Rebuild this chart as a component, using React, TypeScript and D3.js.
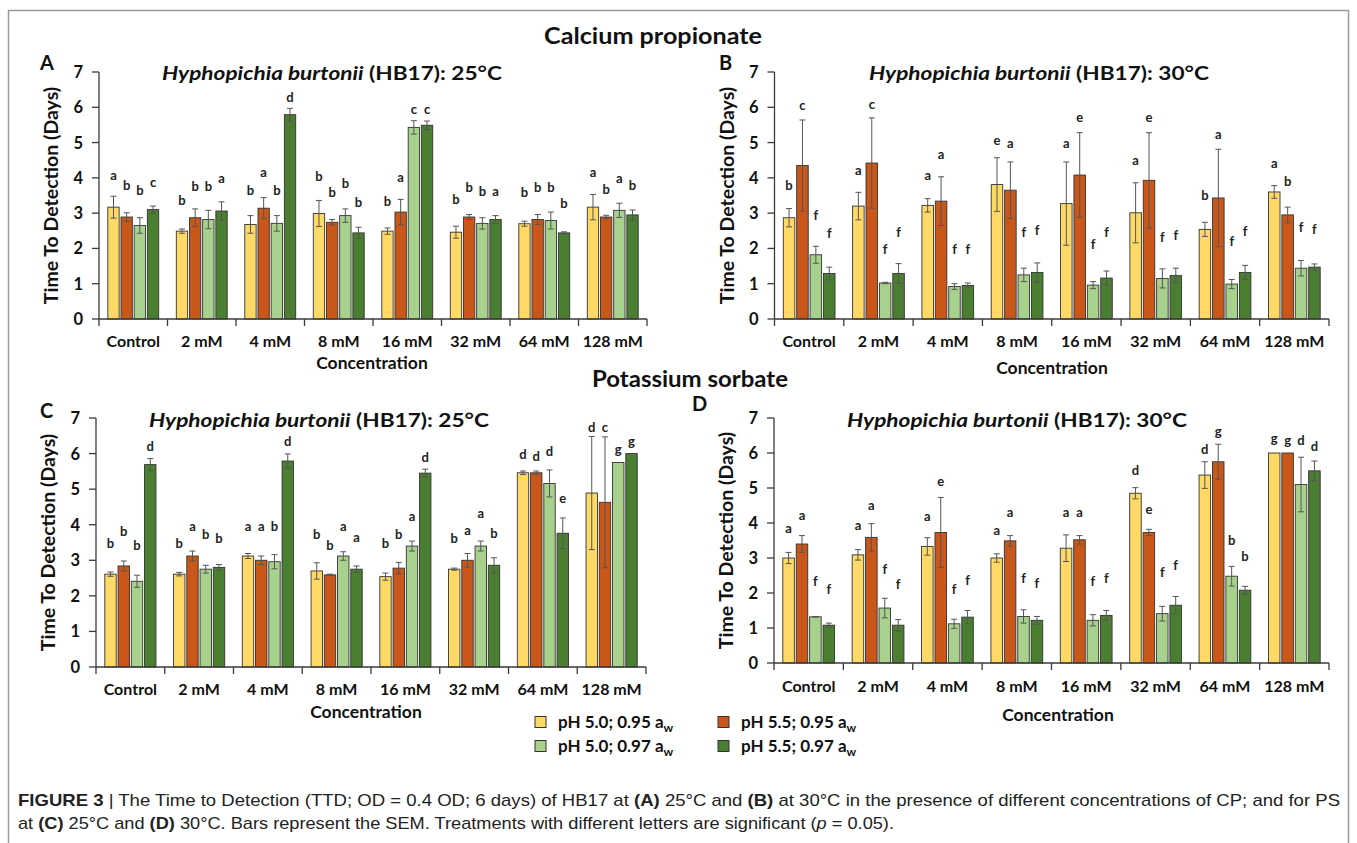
import React from 'react';
import * as d3 from 'd3';

// ---------- shared data ----------
const categories = ['Control', '2 mM', '4 mM', '8 mM', '16 mM', '32 mM', '64 mM', '128 mM'];
const seriesKeys = ['s0', 's1', 's2', 's3'];
const seriesLabels = ['pH 5.0; 0.95 a', 'pH 5.5; 0.95 a', 'pH 5.0; 0.97 a', 'pH 5.5; 0.97 a'];
const seriesColors = ['#FFD966', '#C9571A', '#A9D18E', '#4A7E30'];
const yTicks = [0, 1, 2, 3, 4, 5, 6, 7];

// ---------- Panel A: Calcium propionate, 25°C ----------
const aMeans = [
  [3.17, 2.49, 2.68, 2.99, 2.49, 2.46, 2.70, 3.17],
  [2.89, 2.87, 3.14, 2.74, 3.03, 2.89, 2.82, 2.89],
  [2.65, 2.82, 2.71, 2.93, 5.43, 2.71, 2.79, 3.08],
  [3.10, 3.06, 5.79, 2.44, 5.49, 2.82, 2.44, 2.95],
];
const aErr = [
  [0.31, 0.06, 0.25, 0.37, 0.09, 0.17, 0.07, 0.36],
  [0.12, 0.25, 0.30, 0.08, 0.36, 0.07, 0.14, 0.05],
  [0.22, 0.26, 0.22, 0.19, 0.19, 0.16, 0.24, 0.20],
  [0.10, 0.26, 0.18, 0.16, 0.12, 0.11, 0.03, 0.14],
];
const aLetters = [
  ['a', 'b', 'b', 'b', 'b', 'b', 'b', 'a'],
  ['b', 'b', 'a', 'b', 'a', 'b', 'b', 'b'],
  ['b', 'b', 'b', 'b', 'c', 'b', 'b', 'a'],
  ['c', 'a', 'd', 'b', 'c', 'a', 'b', 'b'],
];
const aLetterY = [
  [4.05, 3.34, 3.63, 4.04, 3.32, 3.39, 3.58, 4.15],
  [3.77, 3.75, 4.14, 3.58, 4.00, 3.72, 3.72, 3.66],
  [3.63, 3.75, 3.63, 3.82, 5.93, 3.61, 3.72, 3.96],
  [3.87, 3.96, 6.28, 3.30, 5.93, 3.61, 3.25, 3.77],
];

// ---------- Panel B: Calcium propionate, 30°C ----------
const bMeans = [
  [2.87, 3.20, 3.22, 3.81, 3.27, 3.01, 2.54, 3.60],
  [4.35, 4.42, 3.34, 3.65, 4.08, 3.93, 3.43, 2.95],
  [1.82, 1.02, 0.92, 1.25, 0.96, 1.15, 0.99, 1.44],
  [1.29, 1.29, 0.95, 1.32, 1.16, 1.23, 1.32, 1.47],
];
const bErr = [
  [0.26, 0.39, 0.19, 0.76, 1.18, 0.85, 0.20, 0.18],
  [1.29, 1.28, 0.69, 0.80, 1.20, 1.35, 1.38, 0.22],
  [0.24, 0.02, 0.08, 0.19, 0.10, 0.27, 0.13, 0.22],
  [0.18, 0.28, 0.07, 0.27, 0.20, 0.21, 0.20, 0.09],
];
const bLetters = [
  ['b', 'a', 'a', 'e', 'a', 'a', 'b', 'a'],
  ['c', 'c', 'a', 'a', 'e', 'e', 'a', 'b'],
  ['f', 'f', 'f', 'f', 'f', 'f', 'f', 'f'],
  ['f', 'f', 'f', 'f', 'f', 'f', 'f', 'f'],
];
const bLetterY = [
  [3.78, 4.19, 4.05, 5.06, 4.97, 4.47, 3.48, 4.41],
  [6.03, 6.08, 4.66, 4.97, 5.70, 5.70, 5.23, 3.88],
  [2.92, 1.97, 1.97, 2.44, 2.11, 2.30, 2.20, 2.58],
  [2.42, 2.44, 1.97, 2.49, 2.44, 2.35, 2.46, 2.54],
];

// ---------- Panel C: Potassium sorbate, 25°C ----------
const cMeans = [
  [2.61, 2.61, 3.12, 2.70, 2.54, 2.75, 5.46, 4.89],
  [2.84, 3.12, 3.00, 2.59, 2.78, 3.00, 5.46, 4.63],
  [2.41, 2.75, 2.96, 3.12, 3.40, 3.40, 5.16, 5.75],
  [5.69, 2.80, 5.79, 2.75, 5.45, 2.86, 3.76, 6.00],
];
const cErr = [
  [0.06, 0.05, 0.07, 0.23, 0.10, 0.03, 0.05, 1.59],
  [0.14, 0.14, 0.12, 0.02, 0.16, 0.19, 0.05, 1.84],
  [0.17, 0.11, 0.20, 0.12, 0.14, 0.14, 0.38, 0],
  [0.17, 0.08, 0.20, 0.09, 0.11, 0.21, 0.43, 0],
];
const cLetters = [
  ['b', 'b', 'a', 'b', 'b', 'b', 'd', 'd'],
  ['b', 'a', 'a', 'b', 'b', 'a', 'd', 'c'],
  ['b', 'b', 'b', 'a', 'a', 'a', 'd', 'g'],
  ['d', 'b', 'd', 'a', 'd', 'b', 'e', 'g'],
];
const cLetterY = [
  [3.47, 3.47, 3.95, 3.72, 3.47, 3.59, 5.96, 6.72],
  [3.81, 3.95, 3.95, 3.40, 3.72, 3.83, 5.91, 6.72],
  [3.42, 3.72, 3.95, 3.95, 4.21, 4.30, 6.05, 6.10],
  [6.18, 3.59, 6.34, 3.62, 5.89, 3.75, 4.73, 6.34],
];

// ---------- Panel D: Potassium sorbate, 30°C ----------
const dMeans = [
  [3.00, 3.09, 3.33, 3.00, 3.28, 4.85, 5.37, 6.00],
  [3.40, 3.59, 3.73, 3.49, 3.52, 3.73, 5.75, 6.00],
  [1.32, 1.57, 1.12, 1.33, 1.22, 1.41, 2.48, 5.10],
  [1.08, 1.08, 1.31, 1.22, 1.36, 1.65, 2.08, 5.49],
];
const dErr = [
  [0.16, 0.15, 0.25, 0.12, 0.38, 0.16, 0.38, 0],
  [0.24, 0.39, 1.00, 0.15, 0.12, 0.09, 0.50, 0],
  [0.01, 0.28, 0.13, 0.19, 0.16, 0.21, 0.28, 0.78],
  [0.06, 0.16, 0.19, 0.11, 0.14, 0.25, 0.11, 0.28],
];
const dLetters = [
  ['a', 'a', 'a', 'a', 'a', 'd', 'd', 'g'],
  ['a', 'a', 'e', 'a', 'a', 'e', 'g', 'g'],
  ['f', 'f', 'f', 'f', 'f', 'f', 'b', 'd'],
  ['f', 'f', 'f', 'f', 'f', 'f', 'b', 'd'],
];
const dLetterY = [
  [3.83, 3.93, 4.18, 3.79, 4.30, 5.49, 6.10, 6.41],
  [4.20, 4.49, 5.18, 4.30, 4.30, 4.39, 6.60, 6.36],
  [2.31, 2.67, 2.08, 2.41, 2.31, 2.57, 3.49, 6.35],
  [2.08, 2.22, 2.36, 2.25, 2.41, 2.79, 3.02, 6.18],
];

const FONT = 'Lato, "Open Sans", sans-serif';
const AXIS = '#3a3a3a';

type PanelProps = {
  letter: string; lx: number; ly: number;
  x0: number; x1: number; yb: number; yt: number;
  temp: string; subX: number; subY: number;
  catY: number; concX: number; concY: number;
  means: number[][]; errs: number[][]; letters: string[][]; letterY: number[][];
};

function Panel(p: PanelProps) {
  const x = d3.scaleBand<string>().domain(categories).range([p.x0, p.x1]).paddingInner(0).paddingOuter(0);
  const pad = 8.8;
  const sub = d3.scaleBand<string>().domain(seriesKeys).range([pad, x.bandwidth() - pad]).paddingInner(0.14).paddingOuter(0);
  const y = d3.scaleLinear().domain([0, 7]).range([p.yb, p.yt]);
  const bw = sub.bandwidth();
  const boundaries = categories.map((c) => x(c) as number).concat([p.x1]);

  return (
    <g>
      <text x={p.lx} y={p.ly} fontFamily={FONT} fontWeight={700} fontSize={20} fill="#111">{p.letter}</text>
      <text x={p.subX} y={p.subY} textAnchor="middle" fontFamily={FONT} fontWeight={700} fontSize={19} fill="#111"
        textLength={340} lengthAdjust="spacingAndGlyphs">
        <tspan fontStyle="italic">Hyphopichia burtonii</tspan>
        <tspan> (HB17): {p.temp}</tspan>
      </text>
      {/* y axis */}
      <line x1={p.x0} x2={p.x0} y1={y(0)} y2={y(7)} stroke={AXIS} strokeWidth={1.3} />
      {yTicks.map((t) => (
        <g key={t}>
          <line x1={p.x0 - 7} x2={p.x0} y1={y(t)} y2={y(t)} stroke={AXIS} strokeWidth={1.3} />
          <text x={p.x0 - 16} y={y(t)} dy="0.36em" textAnchor="end" fontFamily={FONT} fontWeight={700} fontSize={16.5} fill="#111">{t}</text>
        </g>
      ))}
      <text transform={`translate(${p.x0 - 41},${(y(0) + y(7)) / 2}) rotate(-90)`} textAnchor="middle"
        fontFamily={FONT} fontWeight={700} fontSize={19.5} fill="#111">Time To Detection (Days)</text>
      {/* bars */}
      {seriesKeys.map((s, si) =>
        categories.map((c, ci) => {
          const v = p.means[si][ci];
          const bx = (x(c) as number) + (sub(s) as number);
          return (
            <rect key={s + c} x={bx} y={y(v)} width={bw} height={y(0) - y(v)}
              fill={seriesColors[si]} stroke="#333" strokeWidth={0.9} />
          );
        })
      )}
      {/* error bars */}
      {seriesKeys.map((s, si) =>
        categories.map((c, ci) => {
          const v = p.means[si][ci];
          const e = p.errs[si][ci];
          if (!e) return null;
          const cx = (x(c) as number) + (sub(s) as number) + bw / 2;
          const lo = Math.max(0, v - e);
          const hi = v + e;
          return (
            <g key={'e' + s + c} stroke="#555" strokeWidth={1}>
              <line x1={cx} x2={cx} y1={y(lo)} y2={y(hi)} />
              <line x1={cx - 3} x2={cx + 3} y1={y(hi)} y2={y(hi)} />
              <line x1={cx - 3} x2={cx + 3} y1={y(lo)} y2={y(lo)} />
            </g>
          );
        })
      )}
      {/* letters */}
      {seriesKeys.map((s, si) =>
        categories.map((c, ci) => {
          const cx = (x(c) as number) + (sub(s) as number) + bw / 2;
          return (
            <text key={'l' + s + c} x={cx} y={y(p.letterY[si][ci])} dy="0.32em" textAnchor="middle"
              fontFamily={FONT} fontWeight={700} fontSize={13} fill="#222">{p.letters[si][ci]}</text>
          );
        })
      )}
      {/* x axis */}
      <line x1={p.x0} x2={p.x1} y1={y(0)} y2={y(0)} stroke={AXIS} strokeWidth={1.3} />
      {boundaries.map((b, i) => (
        <line key={i} x1={b} x2={b} y1={y(0)} y2={y(0) + 7} stroke={AXIS} strokeWidth={1.3} />
      ))}
      {categories.map((c) => (
        <text key={c} x={(x(c) as number) + x.bandwidth() / 2} y={p.catY} textAnchor="middle"
          fontFamily={FONT} fontWeight={700} fontSize={16} fill="#111">{c}</text>
      ))}
      <text x={p.concX} y={p.concY} textAnchor="middle" fontFamily={FONT} fontWeight={700} fontSize={17.5} fill="#111">Concentration</text>
    </g>
  );
}

function Legend() {
  const cols = [535, 718];
  const rows = [722, 746];
  return (
    <g>
      {seriesLabels.map((lab, i) => {
        const cx = cols[i % 2];
        const cy = rows[Math.floor(i / 2)];
        return (
          <g key={lab}>
            <rect x={cx} y={cy - 5.5} width={11} height={11} fill={seriesColors[i]} stroke="#333" strokeWidth={1} />
            <text x={cx + 23} y={cy + 6} fontFamily={FONT} fontWeight={700} fontSize={17} fill="#111">
              {lab}<tspan fontSize={12} dy={4}>w</tspan>
            </text>
          </g>
        );
      })}
    </g>
  );
}

export default function App() {
  return (
    <svg width={1357} height={843} style={{ position: 'absolute', left: 0, top: 0, background: '#fff' }}>
      <rect x={0} y={0} width={1357} height={843} fill="#fff" />
      <rect x={8.5} y={10.5} width={1340} height={900} fill="none" stroke="#9a9a9a" strokeWidth={1.5} />
      <text x={653} y={44} textAnchor="middle" fontFamily={FONT} fontWeight={700} fontSize={22} fill="#111"
        textLength={218} lengthAdjust="spacingAndGlyphs">Calcium propionate</text>
      <text x={690} y={387} textAnchor="middle" fontFamily={FONT} fontWeight={700} fontSize={22} fill="#111"
        textLength={196} lengthAdjust="spacingAndGlyphs">Potassium sorbate</text>

      <Panel letter="A" lx={40} ly={70} x0={99} x1={647} yb={319} yt={72} temp="25°C" subX={332} subY={80}
        catY={347} concX={372} concY={369} means={aMeans} errs={aErr} letters={aLetters} letterY={aLetterY} />
      <Panel letter="B" lx={719} ly={70} x0={774.5} x1={1329} yb={319} yt={72} temp="30°C" subX={1039} subY={80}
        catY={347} concX={1052} concY={374} means={bMeans} errs={bErr} letters={bLetters} letterY={bLetterY} />
      <Panel letter="C" lx={40} ly={418} x0={96} x1={646} yb={667} yt={418} temp="25°C" subX={319} subY={427}
        catY={695} concX={366} concY={718} means={cMeans} errs={cErr} letters={cLetters} letterY={cLetterY} />
      <Panel letter="D" lx={692} ly={411} x0={774} x1={1329} yb={663} yt={418} temp="30°C" subX={1017} subY={427}
        catY={692} concX={1058} concY={721} means={dMeans} errs={dErr} letters={dLetters} letterY={dLetterY} />

      <Legend />

      <text x={18} y={806} fontFamily='"Liberation Sans", Arial, sans-serif' fontSize={17} fill="#222"
        textLength={1322} lengthAdjust="spacingAndGlyphs">
        <tspan fontWeight={700}>FIGURE 3</tspan>
        <tspan> | The Time to Detection (TTD; OD = 0.4 OD; 6 days) of HB17 at </tspan>
        <tspan fontWeight={700}>(A)</tspan>
        <tspan> 25°C and </tspan>
        <tspan fontWeight={700}>(B)</tspan>
        <tspan> at 30°C in the presence of different concentrations of CP; and for PS</tspan>
      </text>
      <text x={18} y={829} fontFamily='"Liberation Sans", Arial, sans-serif' fontSize={17} fill="#222"
        textLength={876} lengthAdjust="spacingAndGlyphs">
        <tspan>at </tspan>
        <tspan fontWeight={700}>(C)</tspan>
        <tspan> 25°C and </tspan>
        <tspan fontWeight={700}>(D)</tspan>
        <tspan> 30°C. Bars represent the SEM. Treatments with different letters are significant (</tspan>
        <tspan fontStyle="italic">p</tspan>
        <tspan> = 0.05).</tspan>
      </text>
    </svg>
  );
}
